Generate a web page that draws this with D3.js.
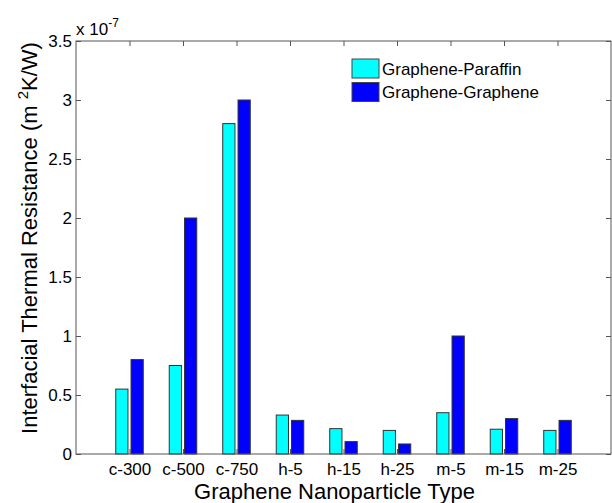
<!DOCTYPE html>
<html>
<head>
<meta charset="utf-8">
<script src="https://cdn.jsdelivr.net/npm/d3@7"></script>
<style>
  body { margin: 0; background: #fff; }
  svg { display: block; font-family: "Liberation Sans", Arial, Helvetica, sans-serif; }
</style>
</head>
<body>
<svg></svg>
<script>
const categories = ["c-300", "c-500", "c-750", "h-5", "h-15", "h-25", "m-5", "m-15", "m-25"];
const seriesNames = ["Graphene-Paraffin", "Graphene-Graphene"];
// values in units of 1e-7 m^2K/W
const paraffin = [0.55, 0.75, 2.8, 0.33, 0.215, 0.2, 0.35, 0.21, 0.2];
const graphene = [0.8, 2.0, 3.0, 0.285, 0.105, 0.085, 1.0, 0.3, 0.285];
const yTicks = [0, 0.5, 1, 1.5, 2, 2.5, 3, 3.5];
const yTickLabels = ["0", "0.5", "1", "1.5", "2", "2.5", "3", "3.5"];
const colors = ["#00ffff", "#0000ff"];

const width = 612;
const height = 503;
const margin = { left: 76, right: 1, top: 41, bottom: 49 };

const svg = d3.select("svg").attr("width", width).attr("height", height);

const x = d3.scaleLinear().domain([0, categories.length + 1]).range([margin.left, width - margin.right]);
const y = d3.scaleLinear().domain([0, 3.5]).range([height - margin.bottom, margin.top]);

// matlab-like grouped bar geometry
const groupWidth = 2 / 3.5;
const barW = (groupWidth / 2) * 0.8;
const offsets = [-groupWidth / 4, groupWidth / 4];

const series = [paraffin, graphene];
series.forEach((vals, s) => {
  svg.append("g")
    .selectAll("rect")
    .data(vals)
    .enter()
    .append("rect")
    .attr("x", (d, i) => x(i + 1 + offsets[s] - barW / 2))
    .attr("width", x(barW) - x(0))
    .attr("y", (d) => y(d))
    .attr("height", (d) => y(0) - y(d))
    .attr("fill", colors[s])
    .attr("stroke", "#333")
    .attr("stroke-width", 1);
});

const axisColor = "#555";
const tickLen = 5;

// box
svg.append("rect")
  .attr("x", x(0)).attr("y", y(3.5))
  .attr("width", x(10) - x(0)).attr("height", y(0) - y(3.5))
  .attr("fill", "none").attr("stroke", axisColor).attr("stroke-width", 1);

// y axis (left, inward ticks) + mirrored right ticks
const yAxis = d3.axisLeft(y).tickValues(yTicks).tickSizeInner(-tickLen).tickSizeOuter(0)
  .tickPadding(4).tickFormat((d, i) => yTickLabels[i]);
const gy = svg.append("g").attr("transform", `translate(${x(0)},0)`).call(yAxis);
const yRight = d3.axisRight(y).tickValues(yTicks).tickSizeInner(-tickLen).tickSizeOuter(0).tickFormat("");
const gyr = svg.append("g").attr("transform", `translate(${x(10)},0)`).call(yRight);

// x axis (bottom, inward ticks) + mirrored top ticks
const xAxis = d3.axisBottom(x).tickValues(d3.range(1, categories.length + 1)).tickSizeInner(-tickLen)
  .tickSizeOuter(0).tickPadding(7).tickFormat((d) => categories[d - 1]);
const gx = svg.append("g").attr("transform", `translate(0,${y(0)})`).call(xAxis);
const xTop = d3.axisTop(x).tickValues(d3.range(1, categories.length + 1)).tickSizeInner(-tickLen)
  .tickSizeOuter(0).tickFormat("");
const gxt = svg.append("g").attr("transform", `translate(0,${y(3.5)})`).call(xTop);

[gy, gyr, gx, gxt].forEach((g) => {
  g.select(".domain").remove();
  g.selectAll(".tick line").attr("stroke", axisColor);
  g.selectAll("text").attr("fill", "#000").style("font-size", "17px").style("font-family", "inherit");
});
gx.selectAll("text").attr("dy", "0.8em");

// exponent label
const expo = svg.append("text").attr("x", x(0)).attr("y", 35).style("font-size", "17px");
expo.append("tspan").text("x 10");
expo.append("tspan").attr("dy", -8).style("font-size", "12px").text("-7");

// axis titles
svg.append("text")
  .attr("x", (x(0) + x(10)) / 2 - 9).attr("y", 499)
  .attr("text-anchor", "middle").style("font-size", "22px")
  .text("Graphene Nanoparticle Type");

const yl = svg.append("text")
  .attr("transform", `translate(37,238) rotate(-90)`)
  .attr("text-anchor", "middle").style("font-size", "22px");
yl.append("tspan").text("Interfacial Thermal Resistance (m ");
yl.append("tspan").attr("dy", -9).style("font-size", "15px").text("2");
yl.append("tspan").attr("dy", 9).text("K/W)");

// legend
const legend = svg.append("g").attr("transform", "translate(352,59)");
seriesNames.forEach((name, i) => {
  const row = legend.append("g").attr("transform", `translate(0,${i * 23.5})`);
  row.append("rect").attr("width", 27).attr("height", 19)
    .attr("fill", colors[i]).attr("stroke", "#444").attr("stroke-width", 1);
  row.append("text").attr("x", 30).attr("y", 9.5).attr("dy", "0.36em")
    .style("font-size", "17px").text(name);
});
</script>
</body>
</html>
